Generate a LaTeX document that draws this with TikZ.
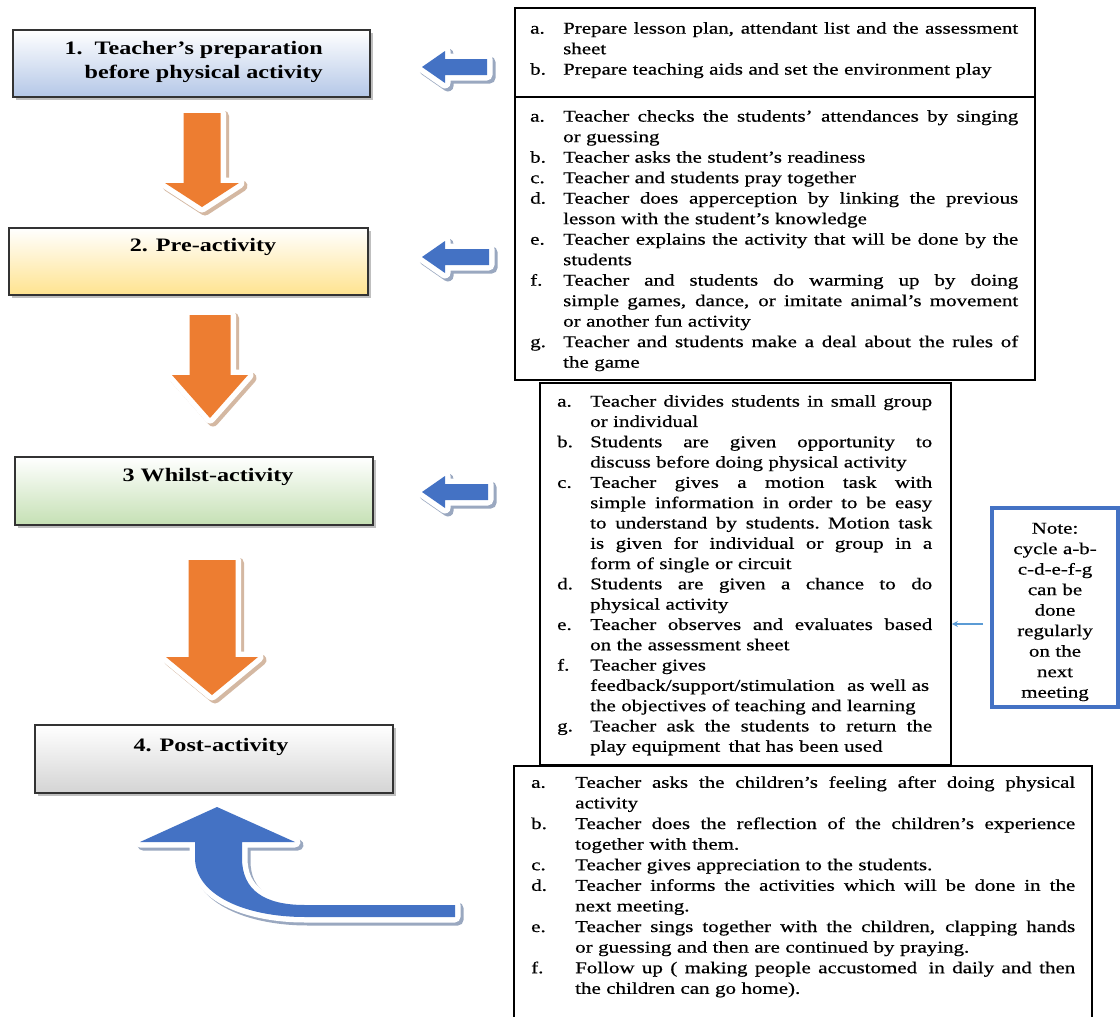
\documentclass[tikz,border=0pt]{standalone}
\usepackage{fontspec}
\setmainfont{Liberation Serif}[FakeStretch=1.27]
\newfontfamily\bodyfont{Liberation Serif}[FakeStretch=1.27,FakeBold=0.6]
\usetikzlibrary{shadows,arrows.meta}
\definecolor{oarr}{HTML}{ED7D31}
\definecolor{barr}{HTML}{4472C4}
\definecolor{sarr}{HTML}{5B9BD5}
\definecolor{oshad}{HTML}{D4B8A2}
\definecolor{bshad}{HTML}{9AA8C0}
\definecolor{gblue}{HTML}{B4C7E7}
\definecolor{gyel}{HTML}{FFE38F}
\definecolor{ggreen}{HTML}{C5E0B4}
\definecolor{ggrey}{HTML}{D4D4D4}
\newlength\lw \newlength\tw
\hbadness=10000 \hfuzz=30pt
\newcommand\JustBox[1]{\hbox to\tw{\spaceskip=\fontdimen2\font plus 1fil minus 1pt\relax#1}}
\newcommand\ItJ[2]{\hbox{\hbox to\lw{#1\hfil}\JustBox{#2}}}
\newcommand\ItR[2]{\hbox{\hbox to\lw{#1\hfil}\hbox to\tw{#2\hfil}}}
\newcommand\CoJ[1]{\hbox{\hskip\lw\JustBox{#1}}}
\newcommand\CoR[1]{\hbox{\hskip\lw\hbox to\tw{#1\hfil}}}
\newcommand\blockarrow[3]{%
  \path[fill=#2, draw=#2, line width=11pt, line join=round, shift={(3,3)}] #3;
  \path[fill=white, draw=white, line width=11pt, line join=round] #3;
  \fill[#1] #3;}
\tikzset{
  stage/.style={draw=black!80, line width=2pt, inner sep=0, top color=white, bottom color=#1,
    drop shadow={shadow xshift=3pt, shadow yshift=-3pt, fill=gray, opacity=.5}},
  ttl/.style={font=\fontsize{19}{24}\selectfont\bfseries, inner sep=0},
  tbox/.style={draw=black, line width=1.8pt, inner sep=0},
  itemtext/.style={anchor=north west, inner sep=0, text width=#1, font=\bodyfont\fontsize{16.5}{20.5}\selectfont},
}
\begin{document}
\begin{tikzpicture}[x=1pt,y=-1pt]
\useasboundingbox (0,0) rectangle (1120,1017);
\clip (0,0) rectangle (1120,1017);
\fill[white] (0,0) rectangle (1120,1017);

% ---------- stage boxes ----------
\node[stage=gblue, minimum width=357pt, minimum height=67pt] (s1) at (191.5,63.5) {};
\node[stage=gyel, minimum width=359pt, minimum height=67pt] (s2) at (188.5,261.5) {};
\node[stage=ggreen, minimum width=358pt, minimum height=68pt] (s3) at (194,491) {};
\node[stage=ggrey, minimum width=358pt, minimum height=68pt] (s4) at (214,759) {};

\node[ttl, anchor=east, align=right] (t1) at (323,62) {1.\hspace{12pt}Teacher’s preparation\\before physical activity};
\node[ttl] (t2) at (203,247) {2. Pre-activity};
\node[ttl] (t3) at (208,477) {3 Whilst-activity};
\node[ttl] (t4) at (211,747) {4. Post-activity};

% ---------- orange down arrows ----------
\blockarrow{oarr}{oshad}{(183.5,113) -- (220.5,113) -- (220.5,183) -- (239,183) -- (202,207) -- (165,183) -- (183.5,183) -- cycle}
\blockarrow{oarr}{oshad}{(189.5,315) -- (230.5,315) -- (230.5,375) -- (248,375) -- (210,418) -- (172,375) -- (189.5,375) -- cycle}
\blockarrow{oarr}{oshad}{(188.5,560) -- (235.5,560) -- (235.5,657) -- (258,657) -- (212,695) -- (166,657) -- (188.5,657) -- cycle}

% ---------- blue left arrows ----------
\blockarrow{barr}{bshad}{(422,67) -- (445,51) -- (445,59) -- (487,59) -- (487,75) -- (445,75) -- (445,83) -- cycle}
\blockarrow{barr}{bshad}{(422,257) -- (445,241) -- (445,249) -- (489,249) -- (489,265) -- (445,265) -- (445,273) -- cycle}
\blockarrow{barr}{bshad}{(422,492) -- (445,476) -- (445,484) -- (488,484) -- (488,500) -- (445,500) -- (445,508) -- cycle}

% ---------- curved blue arrow ----------
\blockarrow{barr}{bshad}{(217,807) -- (295,842) -- (242,842) -- (242,858) .. controls (242,890) and (264,905) .. (305,905) -- (455,905) -- (455,917) -- (305,917) .. controls (245,917) and (195,895) .. (195,858) -- (195,842) -- (140,842) -- cycle}

% ---------- right text boxes ----------
\node[tbox, minimum width=520pt, minimum height=89pt] (A) at (775,52.5) {};
\node[tbox, minimum width=520pt, minimum height=283pt] (B) at (775,238.5) {};
\node[tbox, minimum width=411pt, minimum height=382pt] (C) at (745.5,574) {};
\node[tbox, minimum width=578pt, minimum height=270pt] (D) at (803,901) {};

\node[itemtext=488pt] (TA) at (530,22) {\setlength\lw{33pt}\setlength\tw{455pt}%
\ItJ{a.}{Prepare lesson plan, attendant list and the assessment}
\CoR{sheet}
\ItR{b.}{Prepare teaching aids and set the environment play}};

\node[itemtext=488pt] (TB) at (530,110) {\setlength\lw{33pt}\setlength\tw{455pt}%
\ItJ{a.}{Teacher checks the students’ attendances by singing}
\CoR{or guessing}
\ItR{b.}{Teacher asks the student’s readiness}
\ItR{c.}{Teacher and students pray together}
\ItJ{d.}{Teacher does apperception by linking the previous}
\CoR{lesson with the student’s knowledge}
\ItJ{e.}{Teacher explains the activity that will be done by the}
\CoR{students}
\ItJ{f.}{Teacher and students do warming up by doing}
\CoJ{simple games, dance, or imitate animal’s movement}
\CoR{or another fun activity}
\ItJ{g.}{Teacher and students make a deal about the rules of}
\CoR{the game}};

\node[itemtext=375pt, font=\bodyfont\fontsize{16.5}{20.3}\selectfont] (TC) at (557,395) {\setlength\lw{33pt}\setlength\tw{342pt}%
\ItJ{a.}{Teacher divides students in small group}
\CoR{or individual}
\ItJ{b.}{Students are given opportunity to}
\CoR{discuss before doing physical activity}
\ItJ{c.}{Teacher gives a motion task with}
\CoJ{simple information in order to be easy}
\CoJ{to understand by students. Motion task}
\CoJ{is given for individual or group in a}
\CoR{form of single or circuit}
\ItJ{d.}{Students are given a chance to do}
\CoR{physical activity}
\ItJ{e.}{Teacher observes and evaluates based}
\CoR{on the assessment sheet}
\ItR{f.}{Teacher gives}
\CoR{feedback/support/stimulation \hskip 7pt as well as}
\CoR{the objectives of teaching and learning}
\ItJ{g.}{Teacher ask the students to return the}
\CoR{play equipment \hskip 3pt that has been used}};

\node[itemtext=544pt, font=\bodyfont\fontsize{16.5}{20.6}\selectfont] (TD) at (531,776) {\setlength\lw{44pt}\setlength\tw{500pt}%
\ItJ{a.}{Teacher asks the children’s feeling after doing physical}
\CoR{activity}
\ItJ{b.}{Teacher does the reflection of the children’s experience}
\CoR{together with them.}
\ItR{c.}{Teacher gives appreciation to the students.}
\ItJ{d.}{Teacher informs the activities which will be done in the}
\CoR{next meeting.}
\ItJ{e.}{Teacher sings together with the children, clapping hands}
\CoR{or guessing and then are continued by praying.}
\ItJ{f.}{Follow up ( making people accustomed \hskip 4pt in daily and then}
\CoR{the children can go home).}};

% ---------- note ----------
\node[draw=barr, line width=3.5pt, minimum width=126pt, minimum height=199pt, inner sep=0] (N) at (1055,607.5) {};
\node[align=center, text width=124pt, inner sep=0, font=\bodyfont\fontsize{16.5}{20.5}\selectfont] (Nt) at (1055,612) {Note:\\cycle a-b-\\c-d-e-f-g\\can be\\done\\regularly\\on the\\next\\meeting};
\coordinate (na) at (983,624);
\draw[sarr, line width=1.2pt, -{Stealth[length=6pt,width=6pt]}] (na) -- (na -| C.east);
\end{tikzpicture}
\end{document}
